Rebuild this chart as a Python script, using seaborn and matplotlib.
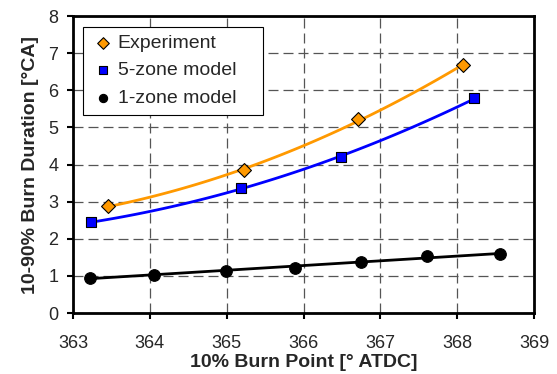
import numpy as np
import pandas as pd
import matplotlib
matplotlib.use("Agg")
import matplotlib.pyplot as plt
import seaborn as sns

exp_x = [363.46, 365.22, 366.71, 368.07]
exp_y = [2.88, 3.84, 5.22, 6.67]
five_x = [363.24, 365.19, 366.49, 368.22]
five_y = [2.44, 3.38, 4.20, 5.78]
one_x = [363.22, 364.06, 364.99, 365.89, 366.75, 367.60, 368.56]
one_y = [0.95, 1.03, 1.14, 1.22, 1.37, 1.54, 1.59]
x_ticks = [363, 364, 365, 366, 367, 368, 369]
y_ticks = [0, 1, 2, 3, 4, 5, 6, 7, 8]

sns.set_style("white")
plt.rcParams['font.family'] = ['Liberation Sans', 'DejaVu Sans']

fig = plt.figure(figsize=(5.57, 3.74), dpi=100)
ax = fig.add_axes([0.131, 0.163, 0.828, 0.794])

df_exp = pd.DataFrame({"x": exp_x, "y": exp_y})
df_five = pd.DataFrame({"x": five_x, "y": five_y})
df_one = pd.DataFrame({"x": one_x, "y": one_y})

sns.regplot(data=df_exp, x="x", y="y", order=2, ci=None, truncate=True, ax=ax,
            scatter=False, line_kws=dict(color="#FF9900", lw=2, zorder=3))
sns.regplot(data=df_five, x="x", y="y", order=2, ci=None, truncate=True, ax=ax,
            scatter=False, line_kws=dict(color="#0000FF", lw=2, zorder=3))
sns.regplot(data=df_one, x="x", y="y", order=1, ci=None, truncate=True, ax=ax,
            scatter=False, line_kws=dict(color="black", lw=2, zorder=3))

sns.scatterplot(data=df_exp, x="x", y="y", marker="D", s=50, color="#FF9900",
                edgecolor="black", linewidth=0.8, ax=ax, zorder=4, label="Experiment")
sns.scatterplot(data=df_five, x="x", y="y", marker="s", s=55, color="#0000FF",
                edgecolor="black", linewidth=0.8, ax=ax, zorder=4, label="5-zone model")
sns.scatterplot(data=df_one, x="x", y="y", marker="o", s=70, color="black",
                edgecolor="black", linewidth=0.8, ax=ax, zorder=4, label="1-zone model")

ax.set_xlim(363, 369)
ax.set_ylim(0, 8)
ax.set_xticks(x_ticks)
ax.set_yticks(y_ticks)
ax.set_xticklabels([str(t) for t in x_ticks])
ax.set_yticklabels([str(t) for t in y_ticks])
ax.grid(True, color="#555555", linestyle=(0, (8, 4)), linewidth=0.9)
ax.set_axisbelow(True)
for s in ax.spines.values():
    s.set_color("black")
    s.set_linewidth(2)
ax.tick_params(axis="both", which="major", direction="out", length=4.5, width=1.5,
               color="black", labelsize=13, left=True, bottom=True)
ax.tick_params(axis="x", pad=11)
ax.tick_params(axis="y", pad=6)
ax.set_xlabel("10% Burn Point [° ATDC]", fontsize=14, fontweight="bold", labelpad=2)
ax.set_ylabel("10-90% Burn Duration [°CA]", fontsize=14, fontweight="bold", labelpad=7)

leg = ax.legend(loc="upper left", bbox_to_anchor=(0.021, 0.3, 0.39, 0.664), mode="expand",
                fontsize=14, frameon=True, fancybox=False, edgecolor="black", framealpha=1,
                handletextpad=0.1, borderpad=0.4, labelspacing=0.5, handlelength=1.3,
                borderaxespad=0)
leg.get_frame().set_linewidth(0.8)
for h in leg.legend_handles:
    h.set_sizes([35])

fig.savefig("out.png", dpi=100)
